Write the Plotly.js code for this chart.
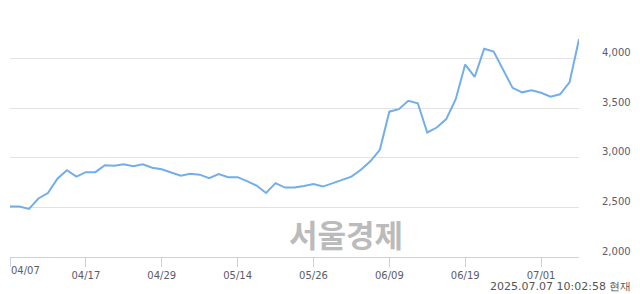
<!DOCTYPE html>
<html>
<head>
<meta charset="utf-8">
<script src="https://cdn.plot.ly/plotly-3.0.1.min.js"></script>
<style>
html,body{margin:0;padding:0;background:#fff;}
#chart{width:640px;height:294px;}
</style>
</head>
<body>
<div id="chart"></div>
<script>
const dates = ["04/07","04/08","04/09","04/10","04/11","04/14","04/15","04/16","04/17","04/18",
  "04/21","04/22","04/23","04/24","04/25","04/28","04/29","04/30","05/02","05/07",
  "05/08","05/09","05/12","05/13","05/14","05/15","05/16","05/19","05/20","05/21",
  "05/22","05/23","05/26","05/27","05/28","05/29","05/30","06/02","06/04","06/05",
  "06/09","06/10","06/11","06/12","06/13","06/16","06/17","06/18","06/19","06/20",
  "06/23","06/24","06/25","06/26","06/27","06/30","07/01","07/02","07/03","07/04","07/07"];
const prices = [2510,2510,2485,2590,2645,2790,2875,2810,2855,2855,
  2925,2920,2935,2915,2935,2900,2885,2850,2820,2840,
  2830,2795,2835,2805,2805,2765,2720,2645,2745,2700,
  2700,2715,2735,2710,2745,2775,2810,2880,2965,3080,
  3465,3490,3575,3550,3255,3305,3390,3590,3940,3815,
  4100,4070,3890,3705,3660,3680,3655,3615,3640,3760,4195];
const xTickVals = ["04/07","04/17","04/29","05/14","05/26","06/09","06/19","07/01"];
const yTickVals = [2000,2500,3000,3500,4000,4500];
const yTickText = ["2,000","2,500","3,000","3,500","4,000",""];
const watermark = "서울경제";
const stamp = "2025.07.07 10:02:58 현재";

const tickFont = {family:"DejaVu Sans, Verdana, sans-serif", size:10, color:"#5b5b6b"};

const trace = {
  x: dates, y: prices, type: "scatter", mode: "lines",
  line: {color: "#72aee9", width: 2}, hoverinfo: "skip"
};

const layout = {
  width: 640, height: 294, autosize: false,
  margin: {l: 10, r: 61, t: 9, b: 37, pad: 0},
  paper_bgcolor: "#ffffff", plot_bgcolor: "#ffffff",
  showlegend: false,
  xaxis: {
    type: "category", range: [0, dates.length - 1],
    tickmode: "array", tickvals: xTickVals,
    ticktext: xTickVals.map((t, i) => i === 0 ? "" : t),
    ticks: "outside", ticklen: 9, tickwidth: 1, tickcolor: "#c8d2e6",
    showline: true, linecolor: "#c8d2e6", linewidth: 1,
    showgrid: false, zeroline: false, tickfont: tickFont
  },
  yaxis: {
    side: "right", range: [2000, 4500],
    tickmode: "array", tickvals: yTickVals, ticktext: yTickText,
    ticks: "", showline: false, zeroline: false,
    gridcolor: "#e2e2e2", gridwidth: 1,
    tickfont: tickFont, ticklabelshift: -6, ticklabelstandoff: 22
  },
  annotations: [
    {text: xTickVals[0], xref: "x", x: xTickVals[0], yref: "paper", y: -0.055,
     xanchor: "left", yanchor: "middle", showarrow: false, xshift: -1, font: tickFont},
    {text: "<b>" + watermark + "</b>", xref: "paper", x: 0.5905, yref: "paper", y: 0.093,
     xanchor: "center", yanchor: "middle", showarrow: false,
     font: {family: "Noto Sans CJK KR, sans-serif", size: 31, color: "#bbbbbb"}},
    {text: stamp, xref: "paper", x: (633 - 10) / 569, yref: "paper", y: (257 - 286) / 248,
     xanchor: "right", yanchor: "middle", showarrow: false,
     font: {family: "DejaVu Sans, Verdana, sans-serif", size: 11, color: "#555555"}}
  ]
};

Plotly.newPlot("chart", [trace], layout, {staticPlot: true, displayModeBar: false});
</script>
</body>
</html>
